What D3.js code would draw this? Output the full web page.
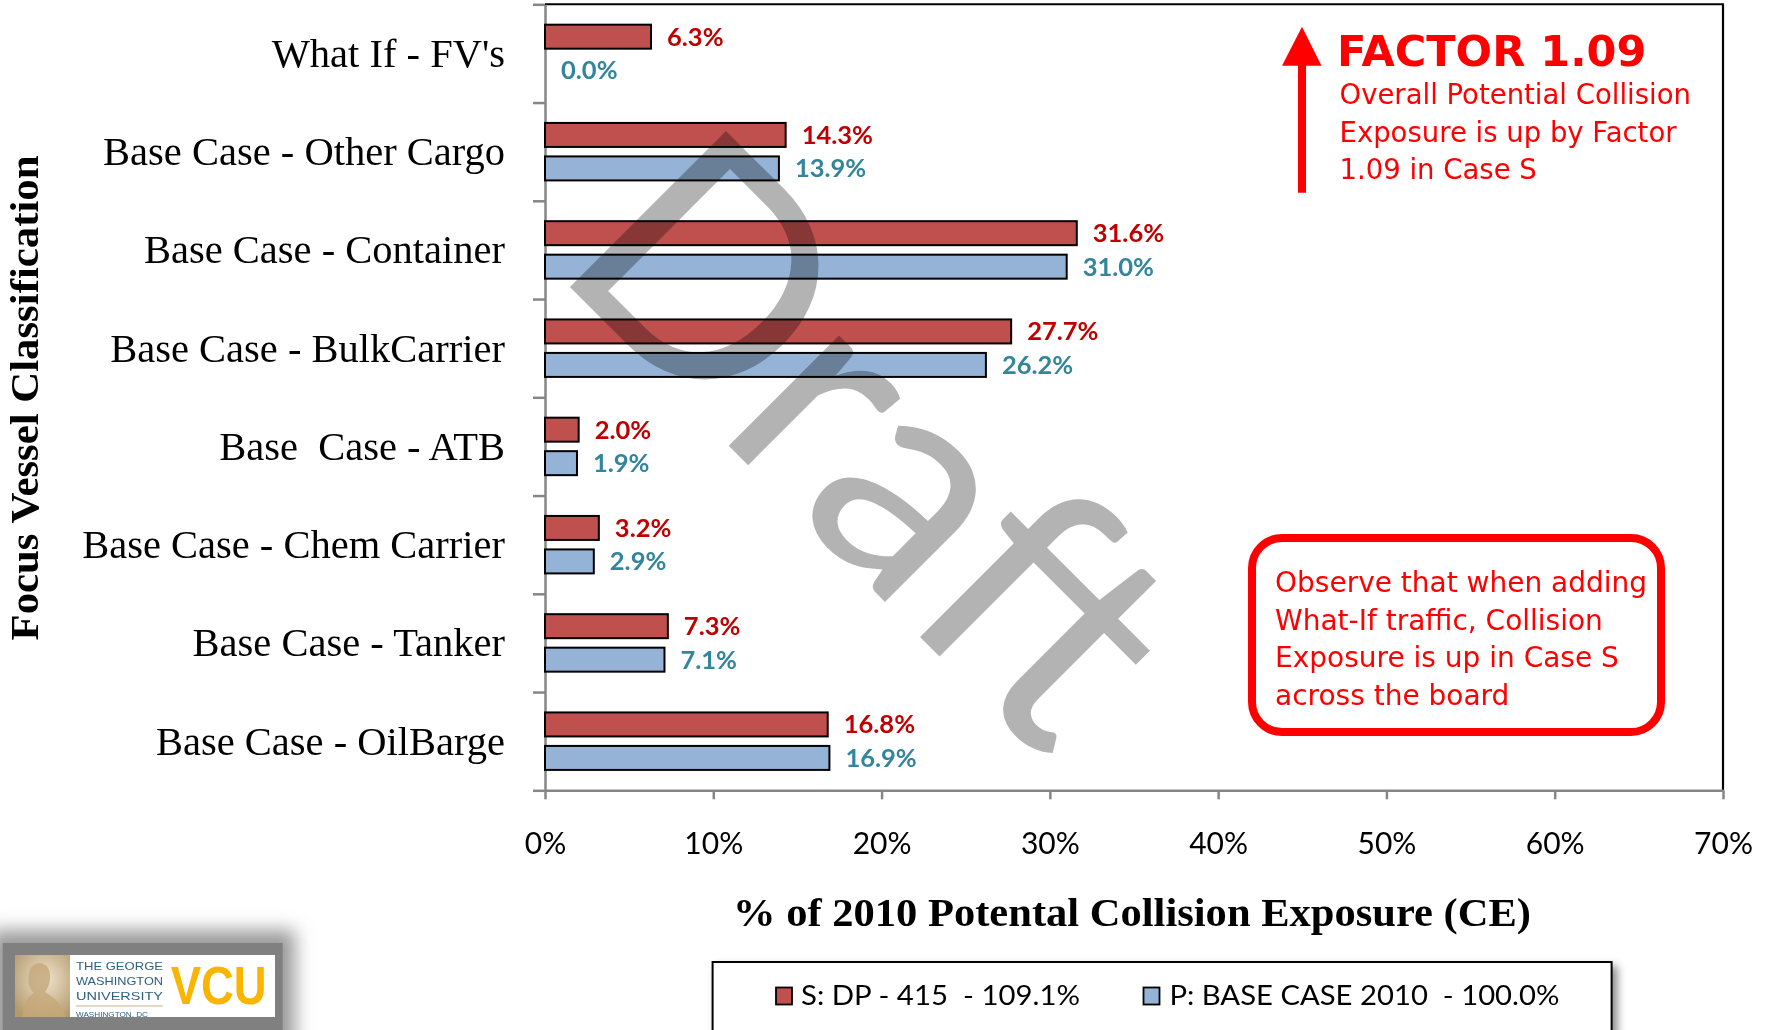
<!DOCTYPE html>
<html><head><meta charset="utf-8">
<script src="https://cdn.jsdelivr.net/npm/d3@7"></script>
<style>
html,body{margin:0;padding:0;background:#fff;}
svg{display:block;}
text{white-space:pre;}
</style></head><body>
<svg id="chart" width="1768" height="1030"></svg>
<script>
// ---------- data ----------
const categories = ["What If - FV's", "Base Case - Other Cargo", "Base Case - Container", "Base Case - BulkCarrier", "Base  Case - ATB", "Base Case - Chem Carrier", "Base Case - Tanker", "Base Case - OilBarge"];
const seriesKeys = ["S", "P"];
const seriesNames = ["S: DP - 415  - 109.1%", "P: BASE CASE 2010  - 100.0%"];
const sValues = [6.3, 14.3, 31.6, 27.7, 2.0, 3.2, 7.3, 16.8];
const pValues = [0.0, 13.9, 31.0, 26.2, 1.9, 2.9, 7.1, 16.9];
const xTickValues = [0, 10, 20, 30, 40, 50, 60, 70];
const xTitle = "% of 2010 Potental Collision Exposure (CE)";
const yTitle = "Focus Vessel Classification";
const factorTitle = "FACTOR 1.09";
const factorLines = ["Overall Potential Collision", "Exposure is up by Factor", "1.09 in Case S"];
const noteLines = ["Observe that when adding", "What-If traffic, Collision", "Exposure is up in Case S", "across the board"];
const watermark = "Draft";

// ---------- styles ----------
const fillColors = {S: "#C0504D", P: "#95B3D7"};
const labelColors = {S: "#C00000", P: "#31859C"};
const axisGray = "#868686";
const red = "#FF0000";

const svg = d3.select("#chart");
const defs = svg.append("defs");
const sh = defs.append("filter").attr("id", "shadow").attr("x", "-10%").attr("y", "-20%").attr("width", "130%").attr("height", "150%");
sh.append("feDropShadow").attr("dx", 5).attr("dy", 5).attr("stdDeviation", 4).attr("flood-color", "#000").attr("flood-opacity", 0.45);
const blur = defs.append("filter").attr("id", "blur").attr("x", "-20%").attr("y", "-50%").attr("width", "140%").attr("height", "200%");
blur.append("feGaussianBlur").attr("stdDeviation", 9);
const sepia = defs.append("radialGradient").attr("id", "sepia").attr("cx", "55%").attr("cy", "40%").attr("r", "70%");
sepia.append("stop").attr("offset", "0%").attr("stop-color", "#efe4cf");
sepia.append("stop").attr("offset", "100%").attr("stop-color", "#b59a6c");

const L = 545, R = 1723, T = 4.3, B = 790.3;
const x = d3.scaleLinear().domain([0, 70]).range([L, R]);
const y = d3.scaleBand().domain(categories).range([T, B]).paddingInner(0.415).paddingOuter(0.2075);
const ySub = d3.scaleBand().domain(seriesKeys).range([0, y.bandwidth()]).paddingInner(0.2836);
const yEdge = d3.scaleLinear().domain([0, categories.length]).range([T, B]);

const rows = categories.map((c, i) => ({cat: c, S: sValues[i], P: pValues[i]}));

// frame (top, right)
svg.append("line").attr("x1", L).attr("x2", R + 1).attr("y1", T).attr("y2", T).attr("stroke", "#000").attr("stroke-width", 2);
svg.append("line").attr("x1", R).attr("x2", R).attr("y1", T).attr("y2", B).attr("stroke", "#000").attr("stroke-width", 2.2);

// x axis
const gx = svg.append("g").attr("transform", `translate(0,${B})`)
  .call(d3.axisBottom(x).tickValues(xTickValues).tickFormat(d => d + "%").tickSize(9).tickSizeOuter(0));
gx.select(".domain").attr("stroke", axisGray).attr("stroke-width", 2.5);
gx.selectAll(".tick line").attr("stroke", axisGray).attr("stroke-width", 2.5);
gx.selectAll(".tick text").attr("y", 64).attr("dy", 0)
  .attr("font-family", "Lato, sans-serif").attr("font-size", 30).attr("fill", "#000");

// y axis edges (ticks at category boundaries)
const gyE = svg.append("g").attr("transform", `translate(${L},0)`)
  .call(d3.axisLeft(yEdge).tickValues(d3.range(0, categories.length + 1)).tickFormat("").tickSize(12).tickSizeOuter(0));
gyE.select(".domain").attr("stroke", axisGray).attr("stroke-width", 2.5);
gyE.selectAll(".tick line").attr("stroke", axisGray).attr("stroke-width", 2.5);

// category labels
const gyL = svg.append("g").attr("transform", `translate(${L},0)`)
  .call(d3.axisLeft(y).tickSize(0).tickPadding(40));
gyL.select(".domain").remove();
gyL.selectAll(".tick text").attr("font-family", "'Liberation Serif', serif").attr("font-size", 40.5)
  .attr("fill", "#000").attr("dy", "0.33em");

// bars
const groups = svg.append("g").selectAll("g").data(rows).join("g")
  .attr("transform", d => `translate(0,${y(d.cat)})`);
groups.selectAll("rect").data(d => seriesKeys.map(k => ({k, v: d[k]}))).join("rect")
  .attr("x", x(0))
  .attr("y", d => ySub(d.k))
  .attr("width", d => x(d.v) - x(0))
  .attr("height", ySub.bandwidth())
  .attr("fill", d => fillColors[d.k])
  .attr("stroke", d => d.v > 0 ? "#000" : "none")
  .attr("stroke-width", 2);
groups.selectAll("text").data(d => seriesKeys.map(k => ({k, v: d[k]}))).join("text")
  .attr("x", d => x(d.v) + 16)
  .attr("y", d => ySub(d.k) + ySub.bandwidth() / 2)
  .attr("dy", "0.35em")
  .attr("font-family", "Lato, sans-serif").attr("font-weight", 700).attr("font-size", 25.5)
  .attr("fill", d => labelColors[d.k])
  .text(d => d.v.toFixed(1) + "%");

// watermark
svg.append("text").attr("transform", "translate(550,267) rotate(45)")
  .attr("font-family", "Lato, sans-serif").attr("font-size", 308).attr("fill", "#B3B3B3")
  .style("mix-blend-mode", "multiply")
  .text(watermark);

// axis titles
svg.append("text").attr("transform", "translate(37.5,398) rotate(-90)").attr("text-anchor", "middle")
  .attr("font-family", "'Liberation Serif', serif").attr("font-weight", 700).attr("font-size", 40)
  .attr("textLength", 485).attr("lengthAdjust", "spacingAndGlyphs")
  .text(yTitle);
svg.append("text").attr("x", 1132).attr("y", 926).attr("text-anchor", "middle")
  .attr("font-family", "'Liberation Serif', serif").attr("font-weight", 700).attr("font-size", 40)
  .attr("textLength", 798).attr("lengthAdjust", "spacingAndGlyphs")
  .text(xTitle);

// factor annotation
svg.append("line").attr("x1", 1302).attr("x2", 1302).attr("y1", 60).attr("y2", 192.7).attr("stroke", red).attr("stroke-width", 8);
svg.append("path").attr("d", "M1302,26.7 L1282,65.7 L1321.5,65.7 Z").attr("fill", red);
svg.append("text").attr("x", 1337).attr("y", 65.7).attr("font-family", "'DejaVu Sans', sans-serif")
  .attr("font-weight", 700).attr("font-size", 43).attr("fill", red).text(factorTitle);
svg.append("g").selectAll("text").data(factorLines).join("text")
  .attr("x", 1339.5).attr("y", (d, i) => 104 + i * 37.7)
  .attr("font-family", "'DejaVu Sans', sans-serif").attr("font-size", 27.5).attr("fill", red).text(d => d);

// note box
svg.append("rect").attr("x", 1252).attr("y", 538).attr("width", 409).attr("height", 194).attr("rx", 30)
  .attr("fill", "#fff").attr("stroke", red).attr("stroke-width", 8);
svg.append("g").selectAll("text").data(noteLines).join("text")
  .attr("x", 1275).attr("y", (d, i) => 591.7 + i * 37.8)
  .attr("font-family", "'DejaVu Sans', sans-serif").attr("font-size", 28).attr("fill", red).text(d => d);

// legend
const lg = svg.append("g");
lg.append("rect").attr("x", 712.6).attr("y", 962).attr("width", 899).attr("height", 90)
  .attr("fill", "#fff").attr("stroke", "#000").attr("stroke-width", 2).attr("filter", "url(#shadow)");
const legendX = [776, 1143.5];
const legendTextX = [801, 1169.4];
const legendLen = [279, 390];
seriesKeys.forEach((k, i) => {
  lg.append("rect").attr("x", legendX[i]).attr("y", 987.5).attr("width", 16).attr("height", 17)
    .attr("fill", fillColors[k]).attr("stroke", "#000").attr("stroke-width", 1.8);
  lg.append("text").attr("x", legendTextX[i]).attr("y", 1005)
    .attr("font-family", "Lato, sans-serif").attr("font-size", 26).attr("fill", "#000")
    .attr("textLength", legendLen[i]).attr("lengthAdjust", "spacingAndGlyphs")
    .text(seriesNames[i]);
});

// logo
const lo = svg.append("g");
lo.append("rect").attr("x", -10).attr("y", 930).attr("width", 305).attr("height", 120).attr("fill", "#9a9a9a").attr("filter", "url(#blur)");
lo.append("rect").attr("x", 2.7).attr("y", 943).attr("width", 280).attr("height", 90).attr("fill", "#808080");
lo.append("rect").attr("x", 15).attr("y", 955).attr("width", 260).attr("height", 62).attr("fill", "#fff");
lo.append("rect").attr("x", 15).attr("y", 955).attr("width", 55).attr("height", 62).attr("fill", "url(#sepia)");
lo.append("path").attr("d", "M22,1017 C24,1000 30,995 34,993 C28,988 27,978 30,970 C33,962 44,961 48,968 C52,975 50,986 45,992 C52,996 62,1003 66,1017 Z").attr("fill", "#c4a878").attr("opacity", 0.8);
const gwLines = ["THE GEORGE", "WASHINGTON", "UNIVERSITY"];
lo.append("g").selectAll("text").data(gwLines).join("text")
  .attr("x", 76).attr("y", (d, i) => 969.5 + i * 15)
  .attr("font-family", "'Liberation Sans', sans-serif").attr("font-size", 11.5).attr("fill", "#2F6183")
  .attr("textLength", 87).attr("lengthAdjust", "spacingAndGlyphs").text(d => d);
lo.append("line").attr("x1", 76).attr("x2", 163).attr("y1", 1006).attr("y2", 1006).attr("stroke", "#c9b48a").attr("stroke-width", 1.2);
lo.append("text").attr("x", 76).attr("y", 1017).attr("font-family", "'Liberation Sans', sans-serif")
  .attr("font-size", 8).attr("fill", "#2F6183").attr("textLength", 72).attr("lengthAdjust", "spacingAndGlyphs").text("WASHINGTON, DC");
lo.append("text").attr("x", 170.7).attr("y", 1004).attr("font-family", "'Liberation Sans', sans-serif")
  .attr("font-weight", 700).attr("font-size", 54).attr("fill", "#F9B500")
  .attr("textLength", 96).attr("lengthAdjust", "spacingAndGlyphs").text("VCU");
</script>
</body></html>
